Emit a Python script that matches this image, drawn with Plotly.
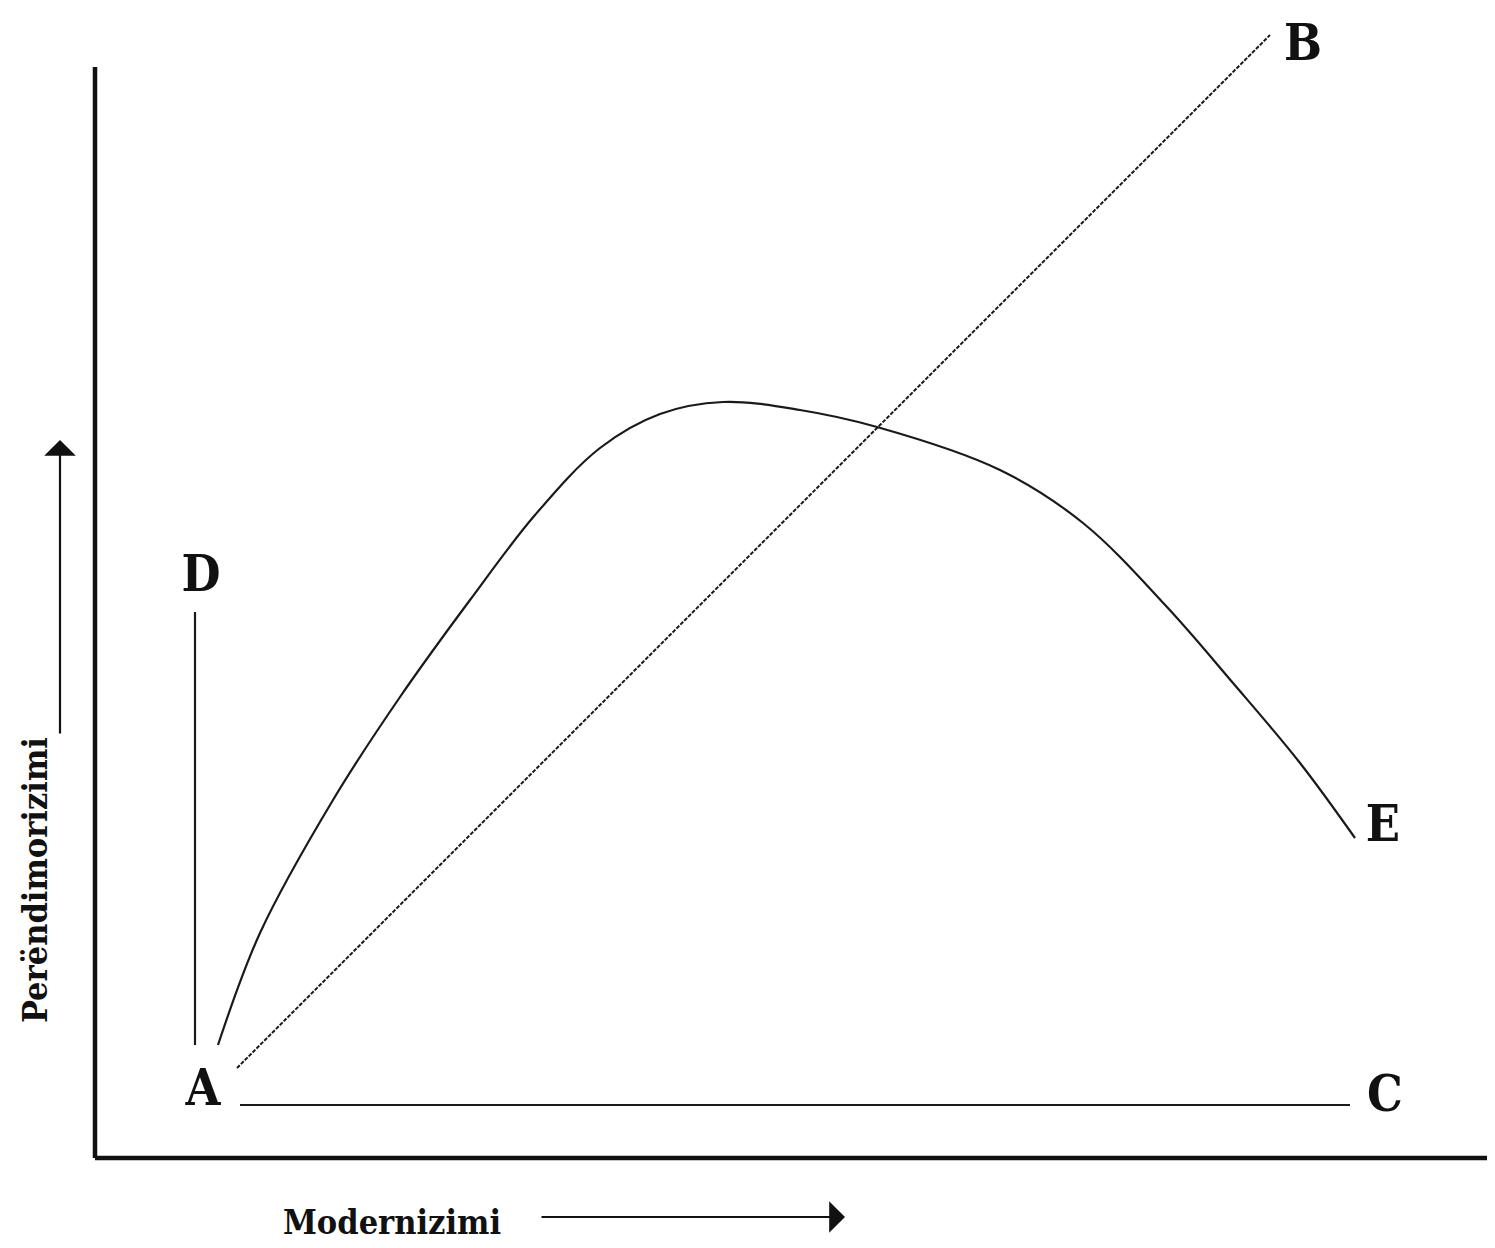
import plotly.graph_objects as go

# Conceptual diagram: Modernizimi (x) vs Perëndimorizimi (y)
# Curve A -> E (rise then fall)
curve_x = [12.3, 16.5, 23.8, 30.5, 37.5, 44.0, 50.5, 56.5,
           62.8, 70.5, 78.2, 90.5, 98.8, 107.2, 113.8, 120.5, 126.0]
curve_y = [11.3, 22.5, 35.8, 46.1, 55.8, 64.3, 71.0, 74.4,
           75.6, 74.8, 73.1, 68.8, 63.5, 55.1, 47.5, 39.5, 32.0]

# Straight line A -> B (dashed)
ab_x = [14.2, 117.5]
ab_y = [9.0, 112.3]

# Vertical line A -> D
ad_x = [10.0, 10.0]
ad_y = [11.3, 54.6]

# Horizontal line A -> C
ac_x = [14.5, 125.5]
ac_y = [5.3, 5.3]

# Point labels
label_text = ["A", "B", "C", "D", "E"]
label_x = [10.8, 120.8, 129.0, 10.6, 128.8]
label_y = [6.6, 111.1, 6.0, 58.0, 33.0]

x_title = "Modernizimi"
y_title = "Perëndimorizimi"

FONT = "DejaVu Serif Condensed, Liberation Serif, serif"
LINE = "#1a1a1a"

fig = go.Figure()
fig.add_trace(go.Scatter(x=curve_x, y=curve_y, mode="lines",
                         line=dict(color=LINE, width=2.2, shape="spline", smoothing=1.0),
                         hoverinfo="skip"))
fig.add_trace(go.Scatter(x=ab_x, y=ab_y, mode="lines",
                         line=dict(color=LINE, width=2.0, dash="4px,1.5px"),
                         hoverinfo="skip"))
fig.add_trace(go.Scatter(x=ad_x, y=ad_y, mode="lines",
                         line=dict(color=LINE, width=2.2), hoverinfo="skip"))
fig.add_trace(go.Scatter(x=ac_x, y=ac_y, mode="lines",
                         line=dict(color=LINE, width=2.2), hoverinfo="skip"))
fig.add_trace(go.Scatter(x=label_x, y=label_y, mode="text", text=label_text,
                         textfont=dict(family=FONT, size=50, color="#111111", weight="bold"),
                         textposition="middle center", hoverinfo="skip"))

# Axis lines (left axis stops below the top)
fig.add_shape(type="line", x0=0, y0=0, x1=0, y1=109.1, xref="x", yref="y",
              line=dict(color="#111111", width=4.5))
fig.add_shape(type="line", x0=0, y0=0, x1=141, y1=0, xref="x", yref="y",
              line=dict(color="#111111", width=4.5))

# Axis titles with arrows
fig.add_annotation(x=29.7, y=-6.4, xref="x", yref="y", text="<b>" + x_title + "</b>",
                   showarrow=False, font=dict(family=FONT, size=34, color="#111111"))
fig.add_annotation(x=75.0, y=-5.9, ax=44.5, ay=-5.9, xref="x", yref="y",
                   axref="x", ayref="y", text="", showarrow=True,
                   arrowhead=1, arrowsize=2.4, arrowwidth=2.2, arrowcolor="#111111")
fig.add_annotation(x=-6.0, y=27.8, xref="x", yref="y", text="<b>" + y_title + "</b>",
                   textangle=-90, showarrow=False,
                   font=dict(family=FONT, size=34, color="#111111"))
fig.add_annotation(x=-3.5, y=71.8, ax=-3.5, ay=42.3, xref="x", yref="y",
                   axref="x", ayref="y", text="", showarrow=True,
                   arrowhead=1, arrowsize=2.4, arrowwidth=2.2, arrowcolor="#111111")

# Full-figure data ranges (page has an 8px body offset)
fig.update_xaxes(range=[-8.7, 140.8], visible=False, fixedrange=True)
fig.update_yaxes(range=[-9.8, 115.0], visible=False, fixedrange=True)
fig.update_layout(width=1495, height=1248, margin=dict(l=0, r=0, t=0, b=0),
                  showlegend=False, plot_bgcolor="white", paper_bgcolor="white")

fig.write_html("out.html")
